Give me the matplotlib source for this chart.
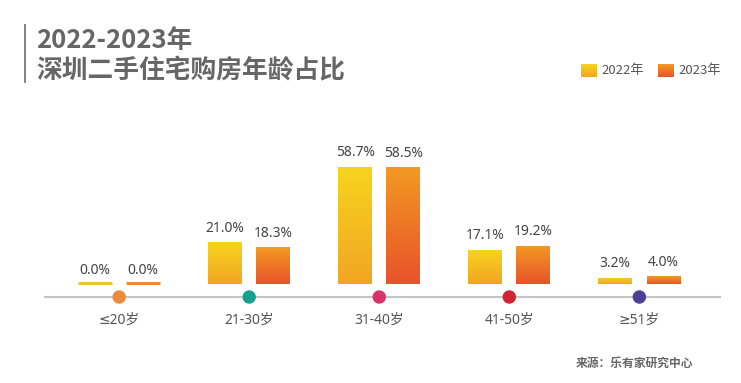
import matplotlib.pyplot as plt
import numpy as np
from matplotlib.colors import LinearSegmentedColormap

plt.rcParams["font.family"] = ["Noto Sans CJK SC", "DejaVu Sans"]

age_groups = ["≤20岁", "21-30岁", "31-40岁", "41-50岁", "≥51岁"]
share_2022 = [0.0, 21.0, 58.7, 17.1, 3.2]
share_2023 = [0.0, 18.3, 58.5, 19.2, 4.0]
series_names = ["2022年", "2023年"]
dot_colors = ["#ec8a3c", "#17a08e", "#d8336a", "#d2232f", "#4b3f97"]

# gradients top -> bottom
cmap_2022 = LinearSegmentedColormap.from_list("g22", ["#f2a523", "#f6d51d"])
cmap_2023 = LinearSegmentedColormap.from_list("g23", ["#e8532a", "#f39a22"])
zero_colors = ["#f3c628", "#ec8a3c"]

W, H = 741, 383
fig = plt.figure(figsize=(W / 100, H / 100), dpi=100)


def px_axes(x0, y0, x1, y1):
    # pixel box (top-left origin) -> figure axes
    return fig.add_axes([x0 / W, 1 - y1 / H, (x1 - x0) / W, (y1 - y0) / H])


ax = px_axes(45, 150, 720, 297)
x = np.arange(len(age_groups))
offset = 0.185
width = 0.26
grad = np.linspace(0, 1, 256).reshape(-1, 1)

for vals, cmap, zc, sign in [
    (share_2022, cmap_2022, zero_colors[0], -1),
    (share_2023, cmap_2023, zero_colors[1], 1),
]:
    bars = ax.bar(x + sign * offset, vals, width=width, color="none", linewidth=0)
    for bar, v in zip(bars, vals):
        bx, bw, bh = bar.get_x(), bar.get_width(), bar.get_height()
        if v == 0:
            ax.plot([bx, bx + bw], [0.4, 0.4], color=zc, lw=2.2, solid_capstyle="butt")
        else:
            im = ax.imshow(grad, extent=[bx, bx + bw, 0, bh], origin="lower",
                           aspect="auto", cmap=cmap, zorder=2)
            im.set_clip_path(bar)
        ax.text(bx + bw / 2, v + 3.2, f"{v:.1f}%", ha="center", va="bottom",
                fontsize=10, color="#444444", family=["Noto Sans", "Noto Sans CJK SC"])

ax.set_xlim(-0.57, 4.62)
ax.set_ylim(-6.5, 67)
for s in ["top", "right", "left"]:
    ax.spines[s].set_visible(False)
ax.spines["bottom"].set_color("#c4c4c4")
ax.spines["bottom"].set_linewidth(1.5)
ax.set_yticks([])
ax.set_xticks(x)
ax.set_xticklabels(age_groups, fontsize=10, color="#555555",
                   family=["Noto Sans", "DejaVu Sans", "Noto Sans CJK SC"])
ax.tick_params(axis="x", length=0, pad=11)
ax.scatter(x, [-6.5] * len(x), s=75, c=dot_colors, zorder=5, clip_on=False)

# title
fig.add_artist(plt.Line2D([25 / W, 25 / W], [1 - 25 / H, 1 - 82 / H], color="#777777", lw=1.3))
fig.text(36 / W, 1 - 40 / H, "2022-2023年", fontsize=18.5, fontweight="bold",
         color="#666666", va="center", ha="left")
fig.text(36 / W, 1 - 71 / H, "深圳二手住宅购房年龄占比", fontsize=18.5, fontweight="bold",
         color="#666666", va="center", ha="left")

# legend
for name, cmap, lx in zip(series_names, [cmap_2022, cmap_2023], [581, 658]):
    lax = px_axes(lx, 64, lx + 16, 77)
    lax.imshow(grad, origin="lower", aspect="auto", cmap=cmap)
    lax.axis("off")
    fig.text((lx + 20) / W, 1 - 70.5 / H, name, fontsize=9.5, color="#555555",
             va="center", ha="left")

fig.text(693 / W, 1 - 363 / H, "来源：乐有家研究中心", fontsize=8.5, fontweight="bold",
         color="#666666", va="center", ha="right")

fig.savefig("out.png", dpi=100)
